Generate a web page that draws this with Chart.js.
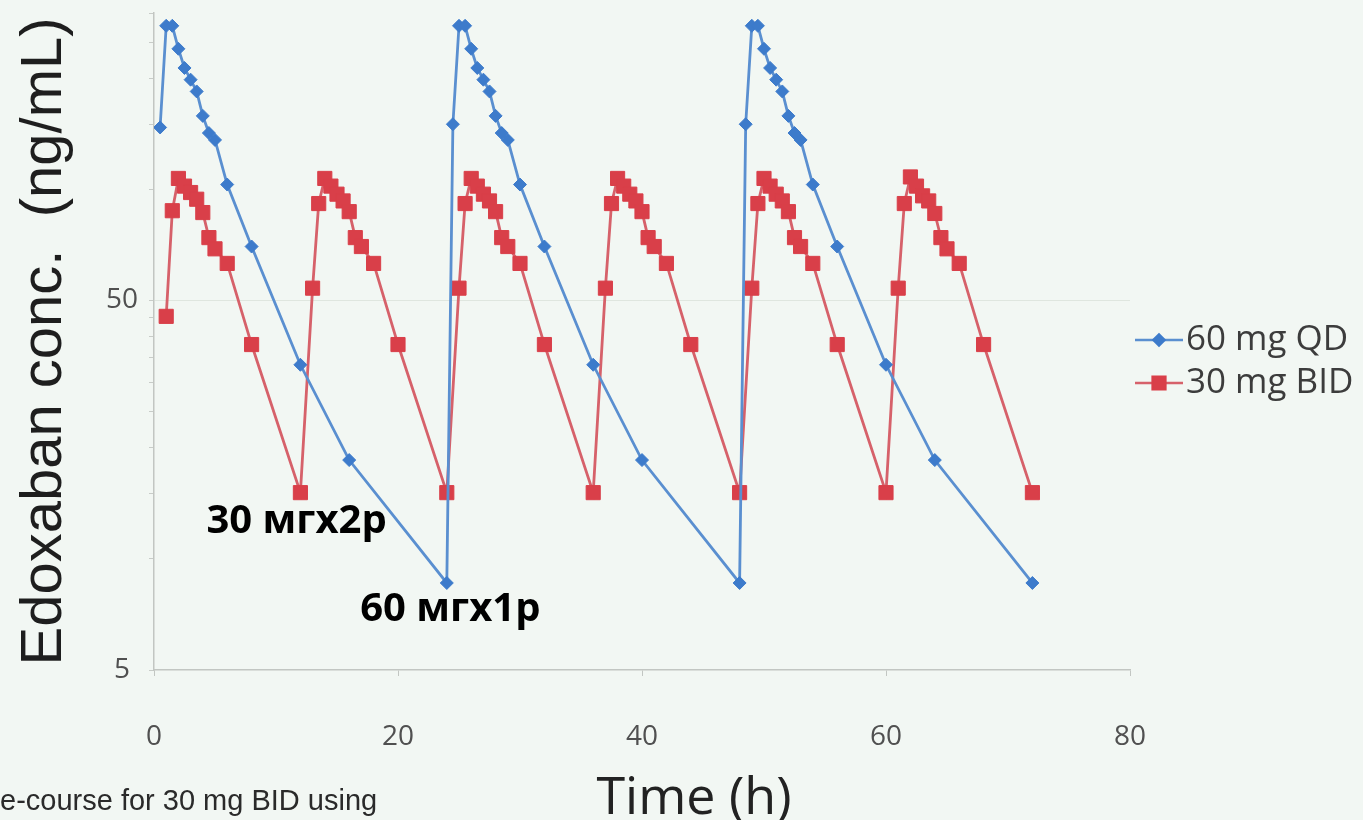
<!DOCTYPE html>
<html>
<head>
<meta charset="utf-8">
<script src="https://cdn.jsdelivr.net/npm/chart.js@4.4.1/dist/chart.umd.min.js"></script>
<style>
  html, body { margin: 0; padding: 0; background: #f2f7f3; }
  #wrap { position: relative; width: 1363px; height: 820px; }
  canvas { display: block; }
</style>
</head>
<body>
<div id="wrap"><canvas id="chart" width="1363" height="820"></canvas></div>
<script>
// 60 mg once daily, three dosing days
const qdTimes = [
  0.5, 1, 1.5, 2, 2.5, 3, 3.5, 4, 4.5, 5, 6, 8, 12, 16, 24,
  24.5, 25, 25.5, 26, 26.5, 27, 27.5, 28, 28.5, 29, 30, 32, 36, 40, 48,
  48.5, 49, 49.5, 50, 50.5, 51, 51.5, 52, 52.5, 53, 54, 56, 60, 64, 72,
];
const qdConc = [
  147, 277, 277, 240, 213, 198, 184, 158, 142, 136, 103, 70, 33.5, 18.5, 8.6,
  150, 277, 277, 240, 213, 198, 184, 158, 142, 136, 103, 70, 33.5, 18.5, 8.6,
  150, 277, 277, 240, 213, 198, 184, 158, 142, 136, 103, 70, 33.5, 18.5, 8.6,
];

// 30 mg twice daily
const bidTimes = [
  1, 1.5, 2, 2.5, 3, 3.5, 4, 4.5, 5, 6, 8, 12,
  13, 13.5, 14, 14.5, 15, 15.5, 16, 16.5, 17, 18, 20, 24,
  25, 25.5, 26, 26.5, 27, 27.5, 28, 28.5, 29, 30, 32, 36,
  37, 37.5, 38, 38.5, 39, 39.5, 40, 40.5, 41, 42, 44, 48,
  49, 49.5, 50, 50.5, 51, 51.5, 52, 52.5, 53, 54, 56, 60,
  61, 61.5, 62, 62.5, 63, 63.5, 64, 64.5, 65, 66, 68, 72,
];
const bidConc = [
  45.3, 87.5, 107, 102, 98, 94, 86.5, 74, 69, 63, 38, 15.1,
  54, 91.5, 107, 102, 97, 93, 87, 74, 70, 63, 38, 15.1,
  54, 91.5, 107, 102, 97, 93, 87, 74, 70, 63, 38, 15.1,
  54, 91.5, 107, 102, 97, 93, 87, 74, 70, 63, 38, 15.1,
  54, 91.5, 107, 102, 97, 93, 87, 74, 70, 63, 38, 15.1,
  54, 91.5, 108, 102, 96, 93, 86, 74, 69, 63, 38, 15.1,
];

const seriesNames = ["60 mg QD", "30 mg BID"];
const xTickValues = [0, 20, 40, 60, 80];
const yTickValues = [5, 10, 15, 20, 25, 30, 35, 40, 45, 50, 100, 150, 200, 250, 300];
const yLabelledTicks = [5, 50];

const noteLabels = ["30 мгх2р", "60 мгх1р"];
const noteTimes = [4.3, 16.9];
const noteConc = [12.6, 7.3];

const captionText = "e-course for 30 mg BID using";

function toPoints(times, values) {
  return times.map((t, i) => ({ x: t, y: values[i] }));
}

const pageText = {
  id: "pageText",
  afterDraw(chart) {
    const { ctx, scales } = chart;
    const xs = scales.x;
    const ys = scales.y;
    ctx.save();

    // x axis title (sits right of centre in the source)
    ctx.fillStyle = "#222";
    ctx.font = "52px 'Open Sans'";
    ctx.textAlign = "center";
    ctx.textBaseline = "middle";
    ctx.fillText("Time (h)", 694, 799);

    // cut-off caption text bottom left
    ctx.fillStyle = "#2a2a2a";
    ctx.font = "29px 'Liberation Sans'";
    ctx.textAlign = "left";
    ctx.textBaseline = "alphabetic";
    ctx.fillText(captionText, 0, 810);

    // annotations
    ctx.fillStyle = "#000";
    ctx.font = "bold 40px 'Open Sans'";
    ctx.textBaseline = "middle";
    noteLabels.forEach((label, i) => {
      ctx.fillText(label, xs.getPixelForValue(noteTimes[i]), ys.getPixelForValue(noteConc[i]));
    });

    // legend
    chart.data.datasets.forEach((ds, i) => {
      const ly = 340 + i * 43;
      ctx.strokeStyle = ds.borderColor;
      ctx.lineWidth = 2.5;
      ctx.beginPath();
      ctx.moveTo(1135, ly);
      ctx.lineTo(1183, ly);
      ctx.stroke();
      ctx.fillStyle = ds.pointBackgroundColor;
      ctx.strokeStyle = ds.pointBorderColor;
      Chart.helpers.drawPoint(ctx, {
        pointStyle: ds.pointStyle,
        radius: ds.pointRadius - 1,
        rotation: 0,
        borderWidth: 1,
      }, 1159, ly);
      ctx.fillStyle = "#3c3c3c";
      ctx.font = "35px 'Open Sans'";
      ctx.textAlign = "left";
      ctx.textBaseline = "middle";
      ctx.fillText(ds.label, 1186, ly);
    });

    ctx.restore();
  },
};

new Chart(document.getElementById("chart"), {
  type: "line",
  data: {
    datasets: [
      {
        label: seriesNames[0],
        data: toPoints(qdTimes, qdConc),
        borderColor: "#5a8fd0",
        borderWidth: 2.8,
        pointStyle: "rectRot",
        pointRadius: 6.5,
        pointBackgroundColor: "#3d7bcb",
        pointBorderColor: "#3d7bcb",
        pointBorderWidth: 1,
        tension: 0,
        fill: false,
      },
      {
        label: seriesNames[1],
        data: toPoints(bidTimes, bidConc),
        borderColor: "#d6616a",
        borderWidth: 2.8,
        pointStyle: "rect",
        pointRadius: 10,
        pointBackgroundColor: "#d93f49",
        pointBorderColor: "#d93f49",
        pointBorderWidth: 1,
        tension: 0,
        fill: false,
      },
    ],
  },
  options: {
    responsive: false,
    animation: false,
    devicePixelRatio: 1,
    layout: { padding: { top: 13, right: 233, left: 0, bottom: 0 } },
    plugins: {
      legend: { display: false },
      title: { display: false },
      tooltip: { enabled: false },
    },
    scales: {
      x: {
        type: "linear",
        min: 0,
        max: 80,
        afterBuildTicks(axis) {
          axis.ticks = xTickValues.map((v) => ({ value: v }));
        },
        afterFit(axis) {
          axis.height = 150;
        },
        ticks: {
          color: "#505050",
          font: { family: "'Open Sans'", size: 28 },
          padding: 44,
          maxRotation: 0,
        },
        grid: {
          drawOnChartArea: false,
          tickLength: 6,
          tickColor: "#c2c6c2",
        },
        border: { color: "#c2c6c2", width: 1.5 },
      },
      y: {
        type: "logarithmic",
        min: 5,
        max: 300,
        afterBuildTicks(axis) {
          axis.ticks = yTickValues.map((v) => ({ value: v }));
        },
        afterFit(axis) {
          axis.width = 154;
          axis.paddingTop = 0;
          axis.paddingBottom = 0;
        },
        title: {
          display: true,
          text: "Edoxaban conc.  (ng/mL)",
          color: "#1e1e1e",
          font: { family: "'Liberation Sans'", size: 58 },
          padding: { top: 10, bottom: 0 },
        },
        ticks: {
          autoSkip: false,
          color: "#505050",
          font: { family: "'Open Sans'", size: 28 },
          padding: 11,
          crossAlign: "center",
          callback(value) {
            return yLabelledTicks.includes(value) ? String(value) : "";
          },
        },
        grid: {
          tickLength: 5,
          tickColor: "#c8ccc8",
          color(ctx) {
            return ctx.tick && ctx.tick.value === 50 ? "#dfe6df" : "rgba(0,0,0,0)";
          },
        },
        border: { color: "#c2c6c2", width: 1.5 },
      },
    },
  },
  plugins: [pageText],
});
</script>
</body>
</html>
